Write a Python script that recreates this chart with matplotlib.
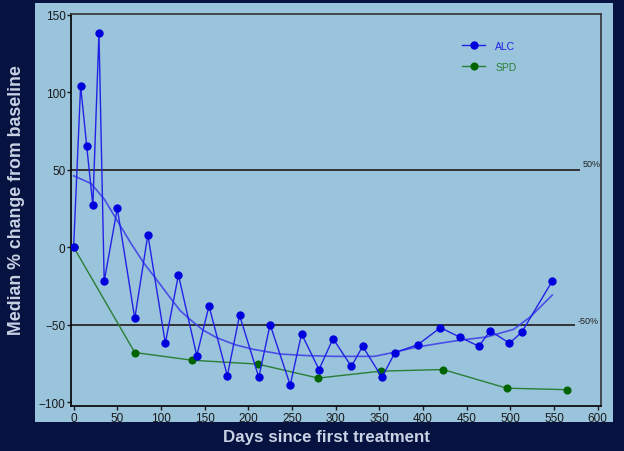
import matplotlib.pyplot as plt
import matplotlib.patches as patches

plt.rcParams['font.family'] = ['Liberation Sans', 'DejaVu Sans']

# ALC observed medians
alc_days = [0, 8, 15, 22, 29, 35, 50, 70, 85, 105, 120, 141, 155, 176, 190, 212, 225,
            248, 261, 281, 297, 318, 331, 353, 368, 394, 420, 442, 464, 477, 499, 513, 548]
alc_vals = [0, 104, 65, 27, 138, -22, 25, -46, 8, -62, -18, -70, -38, -83, -44, -84, -50,
            -89, -56, -79, -59, -77, -64, -84, -68, -63, -52, -58, -64, -54, -62, -55, -22]

# smoothed ALC trend
fit_days = [0, 20, 35, 50, 65, 80, 95, 111, 122, 134, 148, 164, 185, 206, 237, 267, 298,
            344, 366, 393, 420, 443, 473, 504, 523, 548]
fit_vals = [46, 41, 31, 17, 3, -10, -21, -33, -41, -47, -53.5, -58.5, -63, -66, -69, -70,
            -70.5, -70.5, -68, -64.5, -62, -60, -58, -53, -45, -31]

# SPD medians
spd_days = [0, 70, 136, 211, 280, 352, 423, 496, 565]
spd_vals = [0, -68, -73, -75.5, -84.5, -80, -79, -91, -92]

panel = '#9ac3dc'
fig = plt.figure(figsize=(6.24, 4.52), dpi=100)
fig.patch.set_facecolor('#06123f')
fig.patches.append(patches.Rectangle((0.056, 0.064), 0.927, 0.928, transform=fig.transFigure,
                                     facecolor=panel, edgecolor='none', zorder=-5))

ax = fig.add_axes([0.1138, 0.0996, 0.8495, 0.868])
ax.set_facecolor(panel)

ax.hlines(50, -3, 580, color='#333333', lw=1.4, zorder=1)
ax.hlines(-50, -3, 574, color='#333333', lw=1.4, zorder=1)
ax.text(583, 51, '50%', fontsize=6.5, color='#222222', va='bottom', ha='left')
ax.text(577, -50, '-50%', fontsize=6.5, color='#222222', va='bottom', ha='left')

ax.plot(fit_days, fit_vals, color='#3a3ae8', lw=1.2, alpha=0.85, zorder=2)
ax.plot(spd_days, spd_vals, color='#2a7f36', lw=1.0, marker='o', ms=4.8,
        mfc='#006400', mec='#006400', label='SPD', zorder=3)
ax.plot(alc_days, alc_vals, color='#2222e6', lw=1.0, marker='o', ms=5,
        mfc='#0000dd', mec='#0000dd', label='ALC', zorder=4)

handles, labels = ax.get_legend_handles_labels()
leg = ax.legend(handles[::-1], labels[::-1], loc='upper left', bbox_to_anchor=(0.72, 0.955),
                frameon=False, fontsize=7.5, handlelength=2.2, labelspacing=1.1,
                handletextpad=1.0)
for t, c in zip(leg.get_texts(), ['#2222e6', '#2a7f36']):
    t.set_color(c)

ax.set_xlim(-3, 604)
ax.set_ylim(-102.5, 150.6)
ax.set_xticks(range(0, 601, 50))
ax.set_yticks([-100, -50, 0, 50, 100, 150])
ax.tick_params(labelsize=8.5, colors='#1a1a1a', length=3, width=1, pad=1)
for s in ['left', 'bottom']:
    ax.spines[s].set_color('black')
    ax.spines[s].set_linewidth(1.2)
for s in ['top', 'right']:
    ax.spines[s].set_color('#333333')
    ax.spines[s].set_linewidth(1.2)

fig.text(0.027, 0.557, 'Median % change from baseline', rotation=90, ha='center', va='center',
         fontsize=12.8, fontweight='bold', color='#c9d2e4')
fig.text(0.523, 0.033, 'Days since first treatment', ha='center', va='center',
         fontsize=12.2, fontweight='bold', color='#c9d2e4')

fig.savefig('out.png', dpi=100, facecolor=fig.get_facecolor())
